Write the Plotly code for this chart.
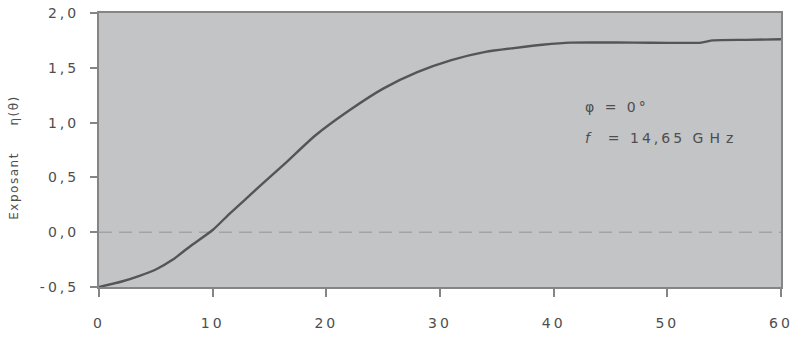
import plotly.graph_objects as go

theta = [0, 2, 3.5, 5, 6.5, 8, 10, 11.5, 13.3, 15, 16.5, 19, 22, 25, 28, 31, 34,
         36.5, 39, 41.5, 47, 53, 54, 57, 60]
eta = [-0.50, -0.45, -0.40, -0.34, -0.25, -0.13, 0.02, 0.17, 0.34, 0.50, 0.64, 0.88,
       1.11, 1.31, 1.46, 1.57, 1.645, 1.68, 1.71, 1.73, 1.73, 1.73, 1.75, 1.755, 1.76]
xticks = [0, 10, 20, 30, 40, 50, 60]
yticks = [-0.5, 0.0, 0.5, 1.0, 1.5, 2.0]
ytick_text = ["-0,5", "0,0", "0,5", "1,0", "1,5", "2,0"]

TXT = "#4e4e4e"
AX = "#858585"

fig = go.Figure()
fig.add_trace(go.Scatter(x=[0, 60], y=[0, 0], mode="lines",
                         line=dict(color="#a3a3a3", width=1.5, dash="13px,7px"),
                         hoverinfo="skip", showlegend=False))
fig.add_trace(go.Scatter(x=theta, y=eta, mode="lines",
                         line=dict(color="#555555", width=2.4, shape="spline", smoothing=0.6),
                         showlegend=False))

fig.add_annotation(x=0.71, y=0.657, xref="paper", yref="paper", xanchor="left", yanchor="middle",
                   align="left", showarrow=False, text="φ = 0°",
                   font=dict(size=14, color=TXT, family="DejaVu Sans"))
fig.add_annotation(x=0.71, y=0.544, xref="paper", yref="paper", xanchor="left", yanchor="middle",
                   align="left", showarrow=False,
                   text="<i>f</i>\u00a0\u00a0= 14,65 <span style=\"letter-spacing:6px\">GHz</span>",
                   font=dict(size=14, color=TXT, family="DejaVu Sans"))
# y-axis title as rotated annotation
fig.add_annotation(x=-0.1246, y=0.471, xref="paper", yref="paper", xanchor="center",
                   yanchor="middle", textangle=-90, showarrow=False,
                   text="Exposant\u00a0\u00a0\u00a0\u00a0\u00a0η(θ)",
                   font=dict(size=12, color=TXT, family="DejaVu Sans"))

fig.update_layout(
    width=792, height=338,
    margin=dict(l=99, r=11, t=13, b=51),
    paper_bgcolor="white", plot_bgcolor="#c3c4c6",
    font=dict(family="DejaVu Sans", size=14, color=TXT),
    xaxis=dict(range=[0, 60], tickvals=xticks, showgrid=False, zeroline=False,
               showline=True, linecolor=AX, linewidth=2, mirror=True, automargin=False,
               ticks="outside", ticklen=8, tickcolor=AX, tickwidth=1.5,
               ticklabelstandoff=14),
    yaxis=dict(range=[-0.5, 2.0], tickvals=yticks, ticktext=ytick_text, showgrid=False,
               zeroline=False, showline=True, linecolor=AX, linewidth=2, mirror=True,
               automargin=False,
               ticks="outside", ticklen=7, tickcolor=AX, tickwidth=1.5,
               ticklabelstandoff=8),
)

post = """
document.body.style.margin='0';
var s=document.createElement('style');
s.innerHTML='.xtick text,.ytick text{letter-spacing:3px} .annotation-text{letter-spacing:3px} .annotation[data-index="2"] .annotation-text{letter-spacing:1.5px}';
document.head.appendChild(s);
"""
fig.write_html("out.html", post_script=post, config={"displayModeBar": False})
